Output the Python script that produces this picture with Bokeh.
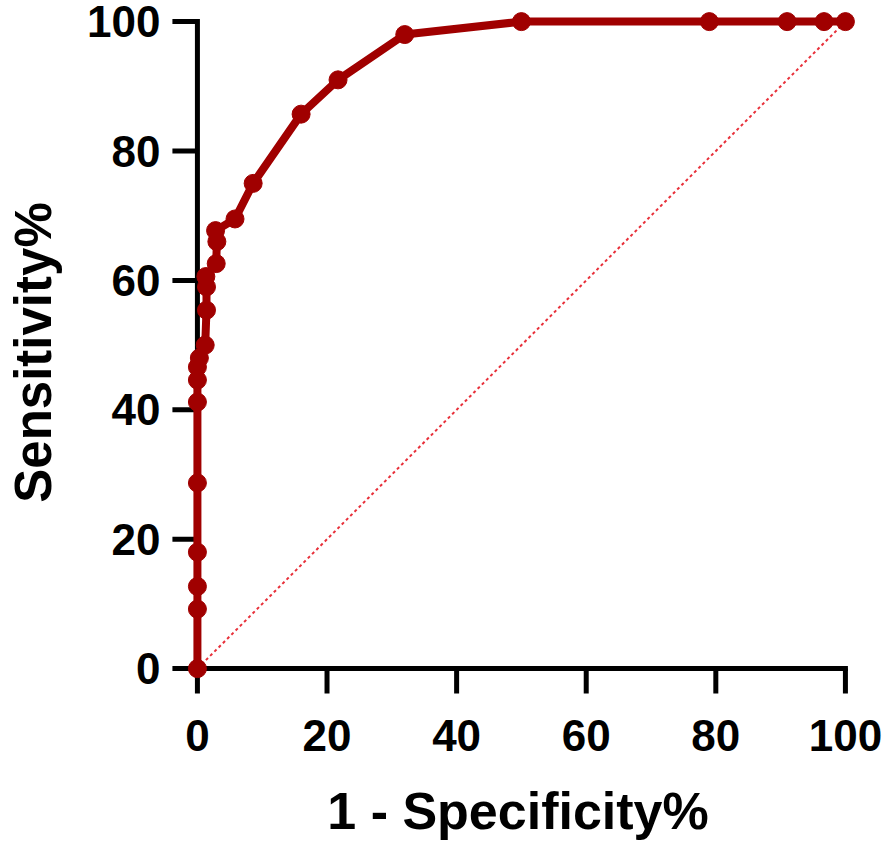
from bokeh.plotting import figure
from bokeh.models import Range1d, FixedTicker
from bokeh.embed import file_html
from bokeh.resources import INLINE

# ROC curve points (1 - Specificity %, Sensitivity %)
fpr = [0, 0, 0, 0, 0, 0, 0, 0, 0.3, 1.2, 1.4, 1.4, 1.3, 2.9, 3.0, 2.8, 5.8, 8.6, 16.0, 21.7, 32.0, 50.0, 79.0, 91.0, 96.7, 100]
tpr = [0, 9.2, 12.7, 18.0, 28.7, 41.2, 44.6, 46.6, 48.0, 50.0, 55.4, 59.0, 60.6, 62.6, 66.0, 67.7, 69.5, 75.0, 85.7, 91.0, 98.0, 100, 100, 100, 100, 100]
diag_x = [0, 100]
diag_y = [0, 100]
ticks = [0, 20, 40, 60, 80, 100]

RED = "#A00000"
FONT = "Liberation Sans"

PXX = 6.48  # pixels per data unit, x
PXY = 6.47  # pixels per data unit, y
X0, Y0 = -4, -4
FW, FH = 693, 684
X1 = X0 + FW / PXX
Y1 = Y0 + FH / PXY

p = figure(frame_width=FW, frame_height=FH,
           x_range=Range1d(X0, X1), y_range=Range1d(Y0, Y1),
           output_backend="svg", toolbar_location=None,
           min_border_left=171, min_border_right=20,
           min_border_top=10, min_border_bottom=140)
p.outline_line_color = None
p.grid.visible = False

for ax in (p.xaxis[0], p.yaxis[0]):
    ax.ticker = FixedTicker(ticks=ticks)
    ax.minor_tick_line_color = None
    ax.major_tick_line_color = None
    ax.axis_line_color = None
    ax.major_tick_out = 0
    ax.major_tick_in = 0
    ax.major_label_text_font = FONT
    ax.major_label_text_font_style = "bold"
    ax.major_label_text_font_size = "44px"
    ax.major_label_text_color = "black"
    ax.axis_label_text_font = FONT
    ax.axis_label_text_font_style = "bold"
    ax.axis_label_text_color = "black"

p.xaxis.axis_label = "1 - Specificity%"
p.xaxis.axis_label_text_font_size = "52px"
p.xaxis.major_label_standoff = 25
p.xaxis.axis_label_standoff = 28
p.yaxis.axis_label = "Sensitivity%"
p.yaxis.axis_label_text_font_size = "51px"
p.yaxis.major_label_standoff = 11
p.yaxis.axis_label_standoff = 22

# axis frame drawn at data 0
tick_len = 25 / PXX
p.segment(x0=[0, 0], y0=[0, 0], x1=[100, 0], y1=[0, 100],
          line_color="black", line_width=5, line_cap="square")
p.segment(x0=ticks, y0=[0] * len(ticks), x1=ticks, y1=[-tick_len] * len(ticks),
          line_color="black", line_width=5)
p.segment(x0=[0] * len(ticks), y0=ticks, x1=[-tick_len] * len(ticks), y1=ticks,
          line_color="black", line_width=5)

p.line(diag_x, diag_y, line_color="#E8303A", line_width=2, line_dash="3 3")
p.line(fpr, tpr, line_color=RED, line_width=8, line_join="round")
p.scatter(fpr, tpr, size=18, fill_color=RED, line_color=RED)

open("out.html", "w").write(file_html(p, INLINE))
